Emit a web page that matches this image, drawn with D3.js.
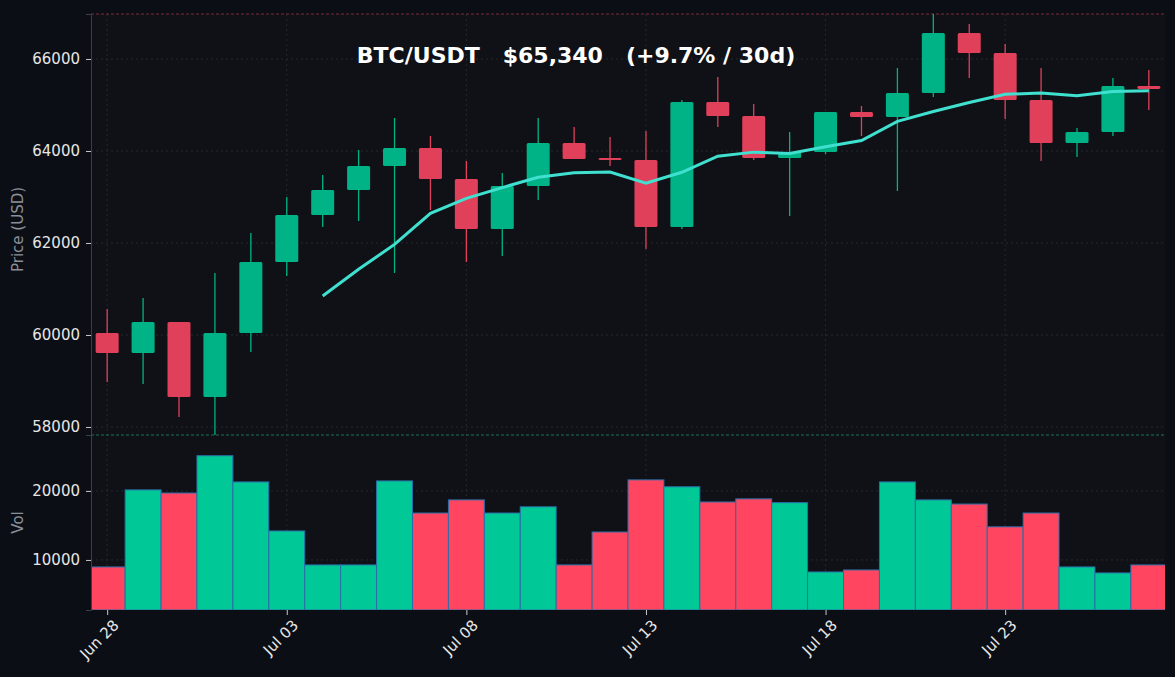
<!DOCTYPE html>
<html><head><meta charset="utf-8">
<script src="https://cdn.jsdelivr.net/npm/d3@7"></script>
<style>body{margin:0;background:#0b0e14;}svg{display:block;font-family:"DejaVu Sans",sans-serif;}</style>
</head><body><svg id="c" width="1175" height="677"></svg>
<script>
const dates = ["Jun 28","Jun 29","Jun 30","Jul 01","Jul 02","Jul 03","Jul 04","Jul 05","Jul 06","Jul 07","Jul 08","Jul 09","Jul 10","Jul 11","Jul 12","Jul 13","Jul 14","Jul 15","Jul 16","Jul 17","Jul 18","Jul 19","Jul 20","Jul 21","Jul 22","Jul 23","Jul 24","Jul 25","Jul 26","Jul 27"];
const open  = [60043,59609,60283,58652,60043,61587,62609,63152,63674,64065,63391,62304,63239,64174,63848,63804,62348,65065,64761,63848,63978,64848,64739,65261,66565,66130,65109,64174,64413,65413];
const close = [59609,60283,58652,60043,61587,62609,63152,63674,64065,63391,62304,63239,64174,63826,63804,62348,65065,64761,63848,63978,64848,64739,65261,66565,66130,65109,64174,64413,65413,65348];
const high  = [60565,60804,60283,61348,62217,63000,63478,64022,64717,64326,63783,63522,64717,64522,64304,64435,65109,65609,65022,64413,64848,64978,65804,66978,66761,66326,65804,64500,65587,65761];
const low   = [58978,58935,58217,57826,59630,61283,62348,62478,61348,62717,61587,61717,62935,63826,63674,61870,62304,64522,63804,62587,63935,64326,63130,65174,65587,64696,63783,63870,64326,64891];
const volume= [8990,20150,19700,25100,21300,14200,9280,9280,21450,16800,18700,16800,17700,9280,14050,21600,20600,18400,18850,18300,8260,8550,21300,18700,18100,14800,16800,8990,8120,9280];
const priceTicks = [58000,60000,62000,64000,66000];
const volTicks = [10000,20000];
const xTickIdx = [0,5,10,15,20,25];
const title = "BTC/USDT   $65,340   (+9.7% / 30d)";

const svg = d3.select("#c");
const L=91, R=1165, pT=14, pB=435, vT=435, vB=610;
const x = d3.scaleLinear().domain([-0.45, 29.45]).range([L, R]);
const y = d3.scaleLinear().domain([57826, 66978]).range([pB, pT]);
const yv = d3.scaleLinear().domain([2750, 28100]).range([vB, vT]);
const G="#00b386", Rd="#e0405a", GV="#00c896", RV="#ff4560";

svg.append("defs").append("clipPath").attr("id","clip").append("rect").attr("x",L).attr("y",pT).attr("width",R-L).attr("height",vB-pT);
svg.append("rect").attr("x",L).attr("y",pT).attr("width",R-L).attr("height",vB-pT).attr("fill","#0f1116");
const grid=svg.append("g").attr("stroke","#2a2e36").attr("stroke-dasharray","2,3").attr("stroke-width",0.8);
xTickIdx.forEach(i=>grid.append("line").attr("x1",x(i)).attr("x2",x(i)).attr("y1",pT).attr("y2",vB));
priceTicks.forEach(t=>grid.append("line").attr("x1",L).attr("x2",R).attr("y1",y(t)).attr("y2",y(t)));
volTicks.forEach(t=>grid.append("line").attr("x1",L).attr("x2",R).attr("y1",yv(t)).attr("y2",yv(t)));
svg.append("line").attr("x1",L).attr("x2",R).attr("y1",pT).attr("y2",pT).attr("stroke","#a03040").attr("stroke-dasharray","3,2").attr("stroke-width",0.8);
svg.append("line").attr("x1",L).attr("x2",R).attr("y1",pB).attr("y2",pB).attr("stroke","#1f8a6a").attr("stroke-dasharray","3,2").attr("stroke-width",0.8);

svg.append("g").attr("clip-path","url(#clip)").selectAll("rect").data(volume).join("rect")
 .attr("x",(d,i)=>x(i-0.5)).attr("width",x(1)-x(0)).attr("y",d=>yv(d)).attr("height",d=>vB-yv(d))
 .attr("fill",(d,i)=>close[i]>=open[i]?GV:RV).attr("stroke","#2a6fa8").attr("stroke-width",1);

const cg=svg.append("g");
dates.forEach((d,i)=>{
 const c=close[i]>=open[i]?G:Rd;
 cg.append("line").attr("x1",x(i)).attr("x2",x(i)).attr("y1",y(high[i])).attr("y2",y(low[i])).attr("stroke",c).attr("stroke-width",1.3);
 const t=y(Math.max(open[i],close[i])), b=y(Math.min(open[i],close[i]));
 cg.append("rect").attr("x",x(i)-11.5).attr("width",23).attr("y",t).attr("height",Math.max(b-t,2)).attr("fill",c).attr("rx",1.5);
});
const ma = close.map((c,i)=> i<6?null:d3.mean(close.slice(i-6,i+1)));
svg.append("path").datum(ma.map((v,i)=>[i,v]).filter(d=>d[1]!=null))
 .attr("d",d3.line().x(d=>x(d[0])).y(d=>y(d[1]))).attr("fill","none").attr("stroke","#40e0d0").attr("stroke-width",3);

const ax=(g)=>{g.attr("font-family","DejaVu Sans");g.selectAll("text").attr("fill","#e6e6e6").style("font-size","15px");g.selectAll(".tick line").attr("stroke","#c8c8c8");g.select(".domain").attr("stroke","#3a3e46");};
svg.append("g").attr("transform",`translate(${L},0)`).call(d3.axisLeft(y).tickValues(priceTicks).tickFormat(d3.format("d")).tickSize(5).tickPadding(6)).call(ax);
svg.append("g").attr("transform",`translate(${L},0)`).call(d3.axisLeft(yv).tickValues(volTicks).tickFormat(d3.format("d")).tickSize(5).tickPadding(6)).call(ax);
const xa=svg.append("g").attr("transform",`translate(0,${vB})`).call(d3.axisBottom(x).tickValues(xTickIdx).tickFormat(i=>dates[i]).tickSize(5)).call(ax);
xa.select(".domain").remove();
xa.selectAll("text").attr("text-anchor","end").attr("dx","-0.2em").attr("dy","0.8em").attr("transform","rotate(-45)");
svg.append("text").attr("transform",`translate(23,${(pT+pB)/2+5}) rotate(-90)`).attr("text-anchor","middle").attr("fill","#8a8f98").style("font-size","15px").text("Price (USD)");
svg.append("text").attr("transform",`translate(23,${(vT+vB)/2}) rotate(-90)`).attr("text-anchor","middle").attr("fill","#8a8f98").style("font-size","15px").text("Vol");
svg.append("text").attr("x",576).attr("y",63).attr("text-anchor","middle").attr("fill","#ffffff").style("font-size","22px").attr("font-weight","bold").attr("xml:space","preserve").style("white-space","pre").text(title);
</script></body></html>
